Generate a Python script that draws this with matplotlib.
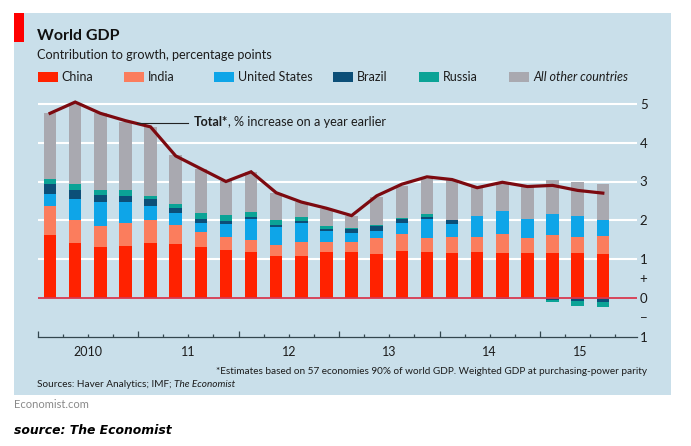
import matplotlib
matplotlib.use("Agg")
import matplotlib.pyplot as plt
from matplotlib.lines import Line2D
from matplotlib.patches import Rectangle
import numpy as np

W, H = 691, 446
NARROW = ["Lato", "Liberation Sans", "DejaVu Sans"]

# Contribution to growth, quarterly Q1 2010 - Q3 2015
china = [1.62, 1.42, 1.32, 1.34, 1.42, 1.39, 1.32, 1.22, 1.18, 1.09, 1.09, 1.18,
         1.18, 1.14, 1.21, 1.18, 1.16, 1.18, 1.15, 1.16, 1.16, 1.15, 1.13]
india = [0.75, 0.58, 0.53, 0.58, 0.59, 0.48, 0.37, 0.34, 0.32, 0.27, 0.36, 0.27,
         0.27, 0.41, 0.44, 0.36, 0.40, 0.39, 0.50, 0.39, 0.46, 0.43, 0.46]
united_states = [0.31, 0.54, 0.62, 0.55, 0.37, 0.32, 0.24, 0.34, 0.53, 0.47, 0.47, 0.26,
                 0.23, 0.17, 0.29, 0.49, 0.34, 0.53, 0.59, 0.49, 0.54, 0.52, 0.41]
brazil = [0.26, 0.24, 0.19, 0.15, 0.16, 0.12, 0.09, 0.07, 0.06, 0.05, 0.05, 0.07,
          0.09, 0.12, 0.09, 0.06, 0.10, 0.00, -0.03, 0.00, -0.05, -0.09, -0.11]
russia = [0.13, 0.16, 0.12, 0.16, 0.08, 0.11, 0.17, 0.16, 0.12, 0.12, 0.11, 0.07,
          0.02, 0.05, 0.03, 0.07, 0.01, 0.00, 0.00, 0.00, -0.07, -0.12, -0.12]
other = [1.69, 2.06, 1.98, 1.76, 1.78, 1.26, 1.13, 0.87, 1.04, 0.71, 0.40, 0.43,
         0.33, 0.72, 0.83, 0.90, 1.02, 0.75, 0.70, 0.81, 0.87, 0.90, 0.93]
total = [4.76, 5.05, 4.76, 4.57, 4.41, 3.66, 3.33, 3.00, 3.25, 2.71, 2.47, 2.31,
         2.12, 2.63, 2.93, 3.12, 3.05, 2.84, 2.98, 2.87, 2.90, 2.77, 2.70]

series_names = ["China", "India", "United States", "Brazil", "Russia", "All other countries"]
series_colors = ["#ff2200", "#fb7d5d", "#0ea5e8", "#0c4f78", "#0ba396", "#a9a9b0"]
legend_x = [37.5, 124, 214, 333, 419, 509]

year_labels = ["2010", "11", "12", "13", "14", "15"]
year_pos = [1.5, 5.5, 9.5, 13.5, 17.5, 21.1]
ytick_pos = [5, 4, 3, 2, 1, 0.5, 0, -0.5, -1]
ytick_labels = ["5", "4", "3", "2", "1", "+", "0", "\u2212", "1"]


def fx(px):
    return px / W


def fy(py):
    return 1 - py / H


def label(x, y, s, **kw):
    kw.setdefault("family", NARROW)
    kw.setdefault("color", "#1c1c1c")
    kw.setdefault("va", "center")
    return fig.text(fx(x), fy(y), s, **kw)


fig = plt.figure(figsize=(W / 100, H / 100), dpi=100, facecolor="white")

# Panel background + red tag
fig.add_artist(Rectangle((fx(14), fy(395)), fx(657), 382 / H, transform=fig.transFigure,
                         facecolor="#c9dfea", edgecolor="none", zorder=-2))
fig.add_artist(Rectangle((fx(14), fy(42)), fx(10), 29 / H, transform=fig.transFigure,
                         facecolor="#ff0000", edgecolor="none", zorder=-1))

# Axes in pixel terms: x 37.5-637, value 5 at y=104, value -1 at y=336.5
ax = fig.add_axes([fx(37.5), fy(336.5), fx(599.5), (336.5 - 96.25) / H])
ax.patch.set_alpha(0)
ax.set_xlim(-0.5, 23.36)
ax.set_ylim(-1, 5.2)

x = np.arange(len(china))
for v in [1, 2, 3, 4, 5]:
    ax.axhline(v, color="white", lw=1.5, zorder=1)

# Positive parts stack up from zero, negative parts stack down
pos = np.zeros(len(x))
neg = np.zeros(len(x))
stack = [china, india, united_states, brazil, russia, other]
for vals, col in zip(stack, series_colors):
    vals = np.array(vals)
    base = np.where(vals >= 0, pos, neg)
    ax.bar(x, vals, bottom=base, width=0.5, color=col, linewidth=0, zorder=2)
    pos += np.clip(vals, 0, None)
    neg += np.clip(vals, None, 0)

ax.axhline(0, color="#d8394f", lw=1.3, zorder=3)
ax.plot(x, total, color="#7c0a10", lw=2.3, solid_joinstyle="miter", zorder=4, clip_on=False)

for side in ["top", "left", "right"]:
    ax.spines[side].set_visible(False)
ax.spines["bottom"].set_color("#33474f")
ax.spines["bottom"].set_linewidth(0.9)

ax.yaxis.tick_right()
ax.set_yticks(ytick_pos, ytick_labels, family=NARROW, fontsize=9.5, color="#1c1c1c")
ax.tick_params(axis="y", length=0, pad=2)

ax.set_xticks(np.arange(-0.5, 23.0, 4), [""] * 6)
ax.set_xticks(np.arange(-0.5, 23.0, 1), minor=True)
ax.tick_params(axis="x", which="major", direction="in", length=4.5, width=0.9, color="#33474f")
ax.tick_params(axis="x", which="minor", direction="in", length=2.5, width=0.9, color="#33474f")
for pos_x, s in zip(year_pos, year_labels):
    ax.annotate(s, xy=(pos_x, -1), xytext=(0, -15.5), textcoords="offset pixels",
                ha="center", va="center", family=NARROW, fontsize=9, color="#1c1c1c",
                annotation_clip=False)

# Header
label(37, 36, "World GDP", fontsize=11.5, fontweight="bold", color="#111111")
label(37, 55, "Contribution to growth, percentage points", fontsize=9.1)

# Legend
for lx, name, col in zip(legend_x, series_names, series_colors):
    fig.add_artist(Rectangle((fx(lx), fy(82)), 20 / W, 10 / H, transform=fig.transFigure,
                             facecolor=col, edgecolor="none", zorder=-1))
    label(lx + 24, 77, name, fontsize=9, style="italic" if name.startswith("All") else "normal")

# Total annotation
fig.add_artist(Line2D([fx(137), fx(188)], [fy(122.5), fy(122.5)], transform=fig.transFigure,
                      color="#222222", lw=0.8, zorder=5))
t = label(194, 122.5, "Total*", fontsize=9.1, fontweight="bold")
fig.canvas.draw()
x1 = t.get_window_extent(fig.canvas.get_renderer()).x1
label(x1, 122.5, ", % increase on a year earlier", fontsize=9.1)

# Footnotes
label(647, 371, "*Estimates based on 57 economies 90% of world GDP. Weighted GDP at purchasing-power parity",
      fontsize=7.2, ha="right")
s = label(37, 384.5, "Sources: Haver Analytics; IMF; ", fontsize=7.2)
fig.canvas.draw()
x1 = s.get_window_extent(fig.canvas.get_renderer()).x1
label(x1, 384.5, "The Economist", fontsize=7.2, style="italic")

label(14, 405, "Economist.com", fontsize=8, color="#8a8a8a")
label(14, 431, "source: The Economist", family="DejaVu Sans", fontsize=8.95,
      fontweight="bold", style="italic", color="#000000")

fig.savefig("out.png", dpi=100)
